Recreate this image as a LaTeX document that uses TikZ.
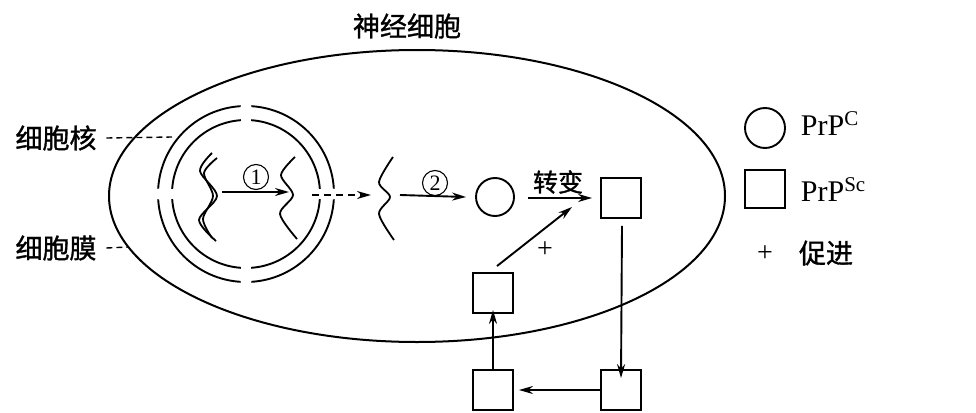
\documentclass[tikz,border=0pt]{standalone}
\usepackage{fontspec}
\setmainfont{Liberation Serif}
\newfontfamily\cjk[FakeBold=1.2]{Noto Sans CJK SC}
\usetikzlibrary{arrows.meta}

\begin{document}
\begin{tikzpicture}[x=1pt,y=-1pt,line width=1.9pt,
  cell/.style={draw,line width=2pt},
  box/.style={draw,minimum width=40pt,minimum height=40pt,inner sep=0pt},
  prpc/.style={draw,circle,minimum size=38pt,inner sep=0pt},
  lbl/.style={font=\cjk\fontsize{27}{27}\selectfont,inner sep=0pt},
  num/.style={draw,circle,line width=1.1pt,minimum size=25pt,inner sep=0pt,
              font=\fontsize{22}{22}\selectfont},
  arr/.style={-{Stealth[length=14pt,width=8pt]}},
  lead/.style={dash pattern=on 6pt off 4pt,line width=1.4pt},
  strand/.style={line width=1.8pt},
  sign/.style={font=\fontsize{28}{28}\selectfont,inner sep=0pt}
]
\useasboundingbox (0,0) rectangle (976,412);

% cell membrane
\draw[cell] (417,196) ellipse [x radius=308pt,y radius=146pt];

% nuclear envelope: two rings with four pores
\coordinate (N) at (246,194);
\foreach \a in {0,90,180,270}{
  \draw (N) ++(\a+3.5:88pt) arc[start angle=\a+3.5,end angle=\a+86.5,radius=88pt];
  \draw (N) ++(\a+4:74pt) arc[start angle=\a+4,end angle=\a+86,radius=74pt];
}

% DNA double strand
\draw[strand] plot[smooth] coordinates {(212,153) (200,171) (217,196) (199,220) (216,241)};
\draw[strand] plot[smooth] coordinates {(217,158) (204,173) (213,196) (203,219) (212,238)};

% mRNA inside the nucleus and in the cytoplasm
\draw[strand] plot[smooth] coordinates {(295,157) (281,175) (293,195) (280,214) (297,239)};
\draw[strand] plot[smooth] coordinates {(393,157) (379,182) (390,197) (379,214) (394,240)};

\coordinate (dnaR) at (222,192);
\coordinate (m1L) at (289,192);
\coordinate (m1R) at (312,195);
\coordinate (m2L) at (371,195);
\coordinate (m2R) at (400,195);

% proteins
\node[prpc] (pc) at (495,197) {};
\node[box] (sc) at (621,198) {};
\node[box] (mid) at (493,293) {};
\node[box] (br) at (621,390) {};
\node[box] (bl) at (493,390) {};
\coordinate (tf) at (572,207);

% steps
\draw[arr] (dnaR) -- (m1L);
\node[num] (n1) at (256,177) {1};
\draw[arr,dash pattern=on 7pt off 5pt] (m1R) -- (m2L);
\draw[arr] (m2R) -- ([xshift=-9pt]pc.west);
\node[num] (n2) at (435,183) {2};
\draw[arr] ([xshift=13pt]pc.east |- sc.west) -- ([xshift=-8pt]sc.west);
\node[lbl,font=\cjk\fontsize{25}{25}\selectfont] (conv) at (558,182) {转变};
\draw[arr] ([shift={(1pt,-7pt)}]sc.south) -- ([yshift=-9pt]br.north);
\draw[arr] (br.west) -- ([xshift=5pt]bl.east);
\draw[arr] (bl.north) -- ([yshift=4pt]mid.south);
\draw[arr] ([shift={(4pt,6pt)}]mid.north) -- (tf);
\node[sign] (plus) at (545,250) {+};

% labels
\node[lbl] (title) at (407,26) {神经细胞};
\node[lbl] (nuc) at (56,138) {细胞核};
\node[lbl] (mem) at (56,248) {细胞膜};
\coordinate (nucEnd) at (172,137);
\coordinate (memEnd) at (128,247);
\draw[lead] ([xshift=9pt]nuc.east) -- (nucEnd);
\draw[lead] ([xshift=9pt]mem.east) -- (memEnd);

% key
\node[prpc,minimum size=40pt] (kc) at (765,128) {};
\node[anchor=base west,inner sep=0pt,font=\fontsize{30}{30}\selectfont] (kct) at (800,135) {PrP\textsuperscript{C}};
\node[box,minimum height=38pt] (ks) at (765,189) {};
\node[anchor=base west,inner sep=0pt,font=\fontsize{30}{30}\selectfont] (kst) at (800,201) {PrP\textsuperscript{Sc}};
\node[sign] (kp) at (765,254) {+};
\node[lbl] (kpt) at (826,253) {促进};
\end{tikzpicture}
\end{document}
